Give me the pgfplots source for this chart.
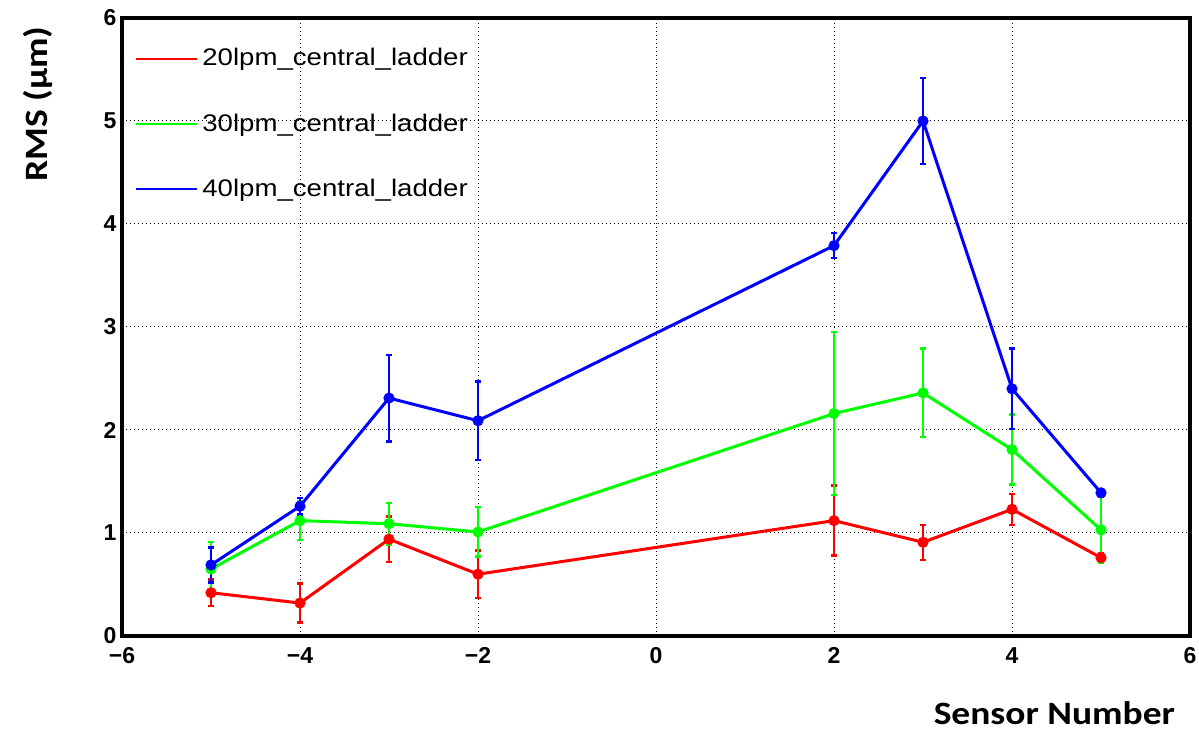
\documentclass[border=0pt]{standalone}
\usepackage{fontspec}
\setmainfont{Liberation Sans}
\newfontfamily\legendfont{Liberation Sans}[FakeStretch=1.15]
\newfontfamily\labelfont{Carlito}[FakeStretch=1.15]
\usepackage{pgfplots}
\pgfplotsset{compat=1.18}

\definecolor{rootred}{rgb}{1,0,0}
\definecolor{rootgreen}{rgb}{0,1,0}
\definecolor{rootblue}{rgb}{0,0,1}

\pgfplotsset{
  rmsseries/.style={
    color=#1, line width=1.5pt,
    mark=*, mark size=2pt, mark options={solid, fill=#1},
    forget plot,
    error bars/.cd, y dir=both, y explicit,
    error bar style={line width=1.3pt, #1},
    error mark options={#1, rotate=90, mark size=1.4pt, line width=1.2pt},
  },
}

\begin{document}
\begin{tikzpicture}
\useasboundingbox (-61pt,-47.5pt) rectangle (538.5pt,318pt);
\begin{axis}[
  at={(0,0)}, anchor=south west,
  width=534pt, height=309pt, scale only axis,
  xmin=-6, xmax=6, ymin=0, ymax=6,
  xtick={-6,-4,...,6}, xticklabels={−6,−4,−2,0,2,4,6},
  ytick={0,1,...,6},
  major tick length=0pt,
  grid=major,
  grid style={black, line width=0.5pt, dash pattern=on 0.6pt off 1.4pt},
  axis line style={line width=1.7pt},
  tick label style={font=\fontsize{11.5}{13}\selectfont\bfseries},
  /pgf/number format/assume math mode=true,
  xticklabel style={yshift=-2.3pt},
  yticklabel style={xshift=0.7pt},
  label style={font=\labelfont\bfseries\fontsize{16.3}{19}\selectfont},
  xlabel={Sensor Number},
  xlabel style={at={(axis description cs:0.873,-0.143)}, anchor=base},
  ylabel={RMS (μm)},
  ylabel style={at={(axis description cs:-0.0693,0.861)}, anchor=base},
  legend style={draw=none, fill=none, at={(0,1)}, anchor=north west,
    xshift=6.5pt, yshift=-13pt, row sep=18.5pt, inner sep=0pt,
    font=\legendfont\fontsize{12}{14}\selectfont,
    /tikz/every even column/.append style={column sep=9.5pt}},
  legend cell align=left,
  legend image code/.code={\draw[#1, line width=1pt] (0pt,0pt) -- (30.5pt,0pt);},
]

% 20 lpm
\addplot[rmsseries=rootred] coordinates {
  (-5,0.42) +- (0,0.13)
  (-4,0.32) +- (0,0.19)
  (-3,0.94) +- (0,0.22)
  (-2,0.60) +- (0,0.23)
  (2,1.12)  +- (0,0.34)
  (3,0.91)  +- (0,0.17)
  (4,1.23)  +- (0,0.15)
  (5,0.76)  +- (0,0.04)
};

% 30 lpm
\addplot[rmsseries=rootgreen] coordinates {
  (-5,0.65) +- (0,0.26)
  (-4,1.12) +- (0,0.19)
  (-3,1.09) +- (0,0.20)
  (-2,1.01) +- (0,0.24)
  (2,2.16)  +- (0,0.79)
  (3,2.36)  +- (0,0.43)
  (4,1.81)  +- (0,0.34)
  (5,1.03)  +- (0,0.32)
};

% 40 lpm
\addplot[rmsseries=rootblue] coordinates {
  (-5,0.69) +- (0,0.17)
  (-4,1.26) +- (0,0.08)
  (-3,2.31) +- (0,0.42)
  (-2,2.09) +- (0,0.38)
  (2,3.79)  +- (0,0.12)
  (3,5.00)  +- (0,0.42)
  (4,2.40)  +- (0,0.39)
  (5,1.39)  +- (0,0.04)
};

\addlegendimage{rootred}
\addlegendentry{20lpm\_central\_ladder}
\addlegendimage{rootgreen}
\addlegendentry{30lpm\_central\_ladder}
\addlegendimage{rootblue}
\addlegendentry{40lpm\_central\_ladder}
\end{axis}
\end{tikzpicture}
\end{document}
